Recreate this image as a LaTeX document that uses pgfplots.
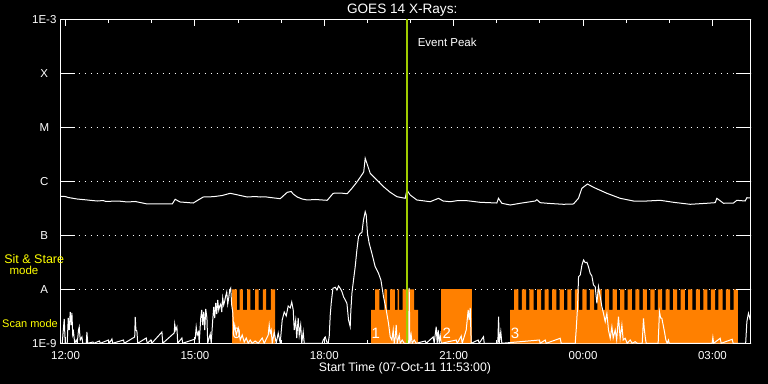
\documentclass[border=0pt]{standalone}
\usepackage{pgfplots}
\pgfplotsset{compat=1.18}
\usepackage{fontspec}
\setmainfont{Liberation Sans}
\definecolor{modeorange}{RGB}{255,128,0}
\definecolor{peakgreen}{RGB}{160,205,0}
\definecolor{labelyellow}{RGB}{255,255,0}
\newcommand{\lbl}{\fontsize{11.5bp}{13bp}\selectfont}
\newcommand{\numlbl}{\fontsize{15bp}{17bp}\selectfont}
\begin{document}
\begin{tikzpicture}
\fill[black] (0,0) rectangle (768bp,384bp);
\begin{axis}[
  at={(60.5bp,40.7bp)}, anchor=south west,
  width=690bp, height=324bp, scale only axis,
  xmin=-0.1167, xmax=15.8833, ymin=-9, ymax=-3,
  axis line style={white, line width=1bp},
  xtick={0,3,6,9,12,15},
  xticklabels={12:00,15:00,18:00,21:00,00:00,03:00},
  minor xtick={1,2,4,5,7,8,10,11,13,14},
  ytick={-9,-8,-7,-6,-5,-4,-3},
  yticklabels={1E-9,A,B,C,M,X,1E-3},
  tick align=inside,
  major tick length=6.7bp, minor tick length=3.3bp,
  xtick style={white, line width=1bp},
  minor tick style={white, line width=1bp},
  ytick style={draw=none},
  ymajorgrids,
  major grid style={white, line width=1bp, dash pattern=on 1bp off 5bp},
  xticklabel style={white, font=\lbl, anchor=center, yshift=-12.7bp},
  yticklabel style={white, font=\lbl, anchor=center, xshift=-16.2bp},
]
% mode regions (scan mode base, sit & stare spikes)
\addplot[fill=modeorange, draw=none] coordinates {
(3.865,-9) (3.865,-8) (3.974,-8) (3.974,-8.383) (4.034,-8.383) (4.034,-8) (4.113,-8) (4.113,-8.383) (4.213,-8.383) (4.213,-8) (4.289,-8) (4.289,-8.383) (4.398,-8.383) (4.398,-8) (4.475,-8) (4.475,-8.383) (4.577,-8.383) (4.577,-8) (4.653,-8) (4.653,-8.383) (4.762,-8.383) (4.762,-8) (4.862,-8) (4.862,-9)} -- cycle;
\addplot[fill=modeorange, draw=none] coordinates {
(7.088,-9) (7.088,-8.383) (7.180,-8.383) (7.180,-8) (7.280,-8) (7.280,-8.383) (7.396,-8.383) (7.396,-8) (7.459,-8) (7.459,-8.383) (7.529,-8.383) (7.529,-8) (7.637,-8) (7.637,-8.383) (7.698,-8.383) (7.698,-8) (7.737,-8) (7.737,-8.383) (7.814,-8.383) (7.814,-8) (8.085,-8) (8.085,-8.383) (8.178,-8.383) (8.178,-9)} -- cycle;
\addplot[fill=modeorange, draw=none] coordinates {
(8.711,-9) (8.711,-8) (9.423,-8) (9.423,-9)} -- cycle;
\addplot[fill=modeorange, draw=none] coordinates {
(10.311,-9) (10.311,-8.383) (10.403,-8.383) (10.403,-8)
(10.503,-8) (10.503,-8.383) (10.582,-8.383) (10.582,-8)
(10.678,-8) (10.678,-8.383) (10.757,-8.383) (10.757,-8)
(10.854,-8) (10.854,-8.383) (10.933,-8.383) (10.933,-8)
(11.029,-8) (11.029,-8.383) (11.108,-8.383) (11.108,-8)
(11.204,-8) (11.204,-8.383) (11.283,-8.383) (11.283,-8)
(11.379,-8) (11.379,-8.383) (11.458,-8.383) (11.458,-8)
(11.555,-8) (11.555,-8.383) (11.634,-8.383) (11.634,-8)
(11.730,-8) (11.730,-8.383) (11.809,-8.383) (11.809,-8)
(11.905,-8) (11.905,-8.383) (11.984,-8.383) (11.984,-8)
(12.081,-8) (12.081,-8.383) (12.160,-8.383) (12.160,-8)
(12.256,-8) (12.256,-8.383) (12.335,-8.383) (12.335,-8)
(12.431,-8) (12.431,-8.383) (12.510,-8.383) (12.510,-8)
(12.606,-8) (12.606,-8.383) (12.685,-8.383) (12.685,-8)
(12.782,-8) (12.782,-8.383) (12.861,-8.383) (12.861,-8)
(12.957,-8) (12.957,-8.383) (13.036,-8.383) (13.036,-8)
(13.132,-8) (13.132,-8.383) (13.211,-8.383) (13.211,-8)
(13.308,-8) (13.308,-8.383) (13.387,-8.383) (13.387,-8)
(13.483,-8) (13.483,-8.383) (13.562,-8.383) (13.562,-8)
(13.658,-8) (13.658,-8.383) (13.737,-8.383) (13.737,-8)
(13.834,-8) (13.834,-8.383) (13.913,-8.383) (13.913,-8)
(14.009,-8) (14.009,-8.383) (14.088,-8.383) (14.088,-8)
(14.184,-8) (14.184,-8.383) (14.263,-8.383) (14.263,-8)
(14.360,-8) (14.360,-8.383) (14.439,-8.383) (14.439,-8)
(14.535,-8) (14.535,-8.383) (14.614,-8.383) (14.614,-8)
(14.710,-8) (14.710,-8.383) (14.789,-8.383) (14.789,-8)
(14.885,-8) (14.885,-8.383) (14.964,-8.383) (14.964,-8)
(15.061,-8) (15.061,-8.383) (15.140,-8.383) (15.140,-8)
(15.236,-8) (15.236,-8.383) (15.315,-8.383) (15.315,-8)
(15.411,-8) (15.411,-8.383) (15.490,-8.383) (15.490,-8)
(15.590,-8) (15.590,-9)} -- cycle;
% GOES 1-8 A (log10 flux)
\addplot[white, line width=1bp] coordinates {
(-0.117,-6.278) (-0.007,-6.282) (0.063,-6.300) (0.271,-6.328) (0.503,-6.346) (0.619,-6.356) (0.735,-6.365) (0.874,-6.356) (0.921,-6.370) (1.036,-6.370) (1.222,-6.365) (1.431,-6.383) (1.616,-6.374) (1.732,-6.393) (1.894,-6.420) (2.474,-6.420) (2.543,-6.333) (2.613,-6.365) (2.659,-6.383) (2.961,-6.402) (3.077,-6.346) (3.193,-6.291) (3.425,-6.285) (3.633,-6.263) (3.819,-6.222) (4.004,-6.254) (4.213,-6.291) (4.398,-6.282) (4.514,-6.291) (4.630,-6.287) (4.746,-6.300) (4.978,-6.322) (5.140,-6.204) (5.233,-6.189) (5.279,-6.235) (5.372,-6.291) (5.488,-6.328) (5.604,-6.346) (5.790,-6.337) (6.068,-6.352) (6.207,-6.222) (6.369,-6.217) (6.531,-6.230) (6.647,-6.124) (6.763,-6.007) (6.895,-5.852) (6.914,-5.828) (6.949,-5.574) (6.988,-5.667) (7.065,-5.852) (7.220,-5.976) (7.373,-6.100) (7.529,-6.204) (7.684,-6.285) (7.876,-6.315) (7.916,-6.161) (7.992,-6.254) (8.147,-6.346) (8.456,-6.378) (8.648,-6.315) (8.757,-6.365) (8.920,-6.378) (9.105,-6.356) (9.307,-6.359) (9.615,-6.389) (10.002,-6.402) (10.039,-6.315) (10.118,-6.407) (10.195,-6.420) (10.311,-6.439) (10.543,-6.407) (10.891,-6.365) (10.930,-6.341) (11.006,-6.396) (11.238,-6.411) (11.546,-6.426) (11.778,-6.420) (11.894,-6.315) (11.973,-6.130) (12.103,-6.050) (12.242,-6.111) (12.553,-6.222) (12.861,-6.315) (13.170,-6.365) (13.480,-6.365) (13.789,-6.352) (14.097,-6.389) (14.484,-6.426) (14.871,-6.407) (15.064,-6.396) (15.103,-6.315) (15.256,-6.407) (15.488,-6.402) (15.567,-6.352) (15.759,-6.365) (15.799,-6.304) (15.876,-6.309)};
% GOES 0.5-4 A (log10 flux)
\addplot[white, line width=1bp] coordinates {
(-0.111,-9) (-0.077,-9) (-0.042,-8.661) (-0.030,-8.550) (-0.007,-9) (0.039,-9) (0.063,-8.531) (0.086,-8.754) (0.109,-8.420) (0.132,-8.661) (0.148,-8.439) (0.167,-8.846) (0.185,-8.791) (0.213,-9) (0.248,-8.939) (0.271,-9) (0.301,-8.754) (0.318,-8.698) (0.341,-8.939) (0.380,-8.883) (0.399,-9) (0.480,-9) (0.496,-8.791) (0.515,-9) (0.635,-8.976) (0.654,-9) (0.788,-8.957) (0.805,-9) (0.997,-8.939) (1.013,-9) (1.076,-8.920) (1.094,-9) (1.345,-8.939) (1.361,-9) (1.604,-8.883) (1.616,-8.513) (1.632,-8.754) (1.655,-8.772) (1.674,-9) (1.871,-8.902) (1.894,-9) (1.980,-8.939) (1.999,-9) (2.235,-8.791) (2.254,-9) (2.520,-8.809) (2.532,-8.643) (2.555,-8.754) (2.583,-8.698) (2.601,-9) (2.699,-8.902) (2.717,-9) (3.007,-8.920) (3.030,-8.698) (3.054,-8.846) (3.084,-8.791) (3.100,-9) (3.135,-8.531) (3.158,-8.383) (3.181,-8.661) (3.204,-8.420) (3.228,-8.754) (3.251,-8.365) (3.279,-8.531) (3.297,-9) (3.355,-8.828) (3.378,-9) (3.413,-8.569) (3.436,-8.328) (3.459,-8.531) (3.483,-8.254) (3.506,-8.457) (3.529,-8.198) (3.552,-8.383) (3.575,-8.309) (3.598,-8.272) (3.622,-8.420) (3.645,-8.161) (3.668,-8.291) (3.691,-8.217) (3.714,-8.124) (3.738,-8.050) (3.761,-8.272) (3.784,-8.161) (3.807,-8.013) (3.830,-7.976) (3.853,-8.291) (3.877,-8.420) (3.900,-8.754) (3.923,-8.661) (3.958,-8.846) (4.004,-8.717) (4.051,-8.939) (4.097,-8.846) (4.143,-8.976) (4.190,-8.902) (4.236,-9) (4.282,-8.939) (4.329,-9) (4.398,-8.957) (4.468,-9) (4.561,-8.902) (4.607,-9) (4.700,-8.846) (4.723,-8.661) (4.746,-8.809) (4.769,-8.754) (4.793,-9) (4.839,-8.791) (4.885,-9) (4.932,-8.809) (4.978,-9) (5.024,-8.569) (5.071,-8.420) (5.117,-8.494) (5.163,-8.309) (5.210,-8.346) (5.245,-8.235) (5.280,-8.383) (5.303,-8.754) (5.337,-8.569) (5.361,-8.902) (5.395,-8.531) (5.419,-8.846) (5.453,-8.661) (5.477,-9) (5.511,-8.791) (5.535,-9) (5.952,-9) (5.975,-8.939) (6.022,-8.883) (6.068,-9) (6.091,-9) (6.115,-8.865) (6.138,-8.476) (6.161,-8.254) (6.200,-7.981) (6.253,-7.963) (6.293,-8.013) (6.330,-7.939) (6.369,-7.981) (6.409,-8.044) (6.446,-8.137) (6.485,-8.198) (6.525,-8.259) (6.562,-8.569) (6.601,-8.693) (6.617,-8.383) (6.641,-8.074) (6.678,-7.828) (6.717,-7.581) (6.756,-7.272) (6.794,-7.026) (6.833,-6.963) (6.872,-6.952) (6.909,-6.717) (6.949,-6.563) (6.972,-6.624) (7.002,-6.963) (7.041,-7.148) (7.103,-7.333) (7.180,-7.581) (7.257,-7.704) (7.313,-7.828) (7.373,-8.137) (7.436,-8.383) (7.489,-8.630) (7.529,-8.878) (7.568,-8.939) (7.598,-8.754) (7.621,-9) (7.645,-8.902) (7.668,-8.661) (7.691,-9) (7.738,-8.846) (7.761,-9) (7.807,-8.939) (7.854,-9) (7.958,-9) (7.969,-7.976) (7.985,-9) (8.015,-8.846) (8.038,-9) (8.085,-8.939) (8.131,-9) (8.340,-8.957) (8.363,-9) (8.525,-8.883) (8.548,-9) (8.595,-8.693) (8.618,-9) (8.641,-8.754) (8.664,-9) (8.688,-8.846) (8.711,-9) (9.059,-8.939) (9.082,-9) (9.175,-8.865) (9.198,-9) (9.291,-8.754) (9.337,-8.383) (9.360,-8.569) (9.384,-8.346) (9.407,-9) (9.569,-8.939) (9.592,-9) (9.692,-8.878) (9.708,-9) (10.024,-9) (10.042,-8.507) (10.058,-9) (10.093,-8.785) (10.117,-9) (10.990,-8.939) (11.006,-9) (11.122,-8.939) (11.146,-9) (11.470,-8.907) (11.494,-9) (11.819,-9) (11.842,-8.741) (11.873,-8.322) (11.896,-7.767) (11.935,-7.735) (11.975,-7.550) (12.012,-7.457) (12.051,-7.507) (12.090,-7.500) (12.126,-7.581) (12.166,-7.704) (12.205,-7.754) (12.242,-7.920) (12.282,-7.952) (12.321,-8.259) (12.358,-7.952) (12.398,-8.137) (12.437,-8.322) (12.474,-8.444) (12.514,-8.600) (12.553,-8.444) (12.590,-8.754) (12.630,-8.907) (12.669,-8.693) (12.699,-8.902) (12.746,-8.754) (12.780,-8.939) (12.822,-8.507) (12.861,-8.907) (12.901,-8.661) (12.931,-8.939) (12.977,-8.907) (13.024,-9) (13.093,-8.939) (13.140,-9) (13.210,-8.970) (13.256,-9) (13.372,-9) (13.402,-8.537) (13.418,-8.717) (13.441,-8.878) (13.464,-9) (13.742,-9) (13.772,-8.415) (13.800,-8.531) (13.828,-8.537) (13.858,-8.661) (13.881,-8.754) (13.921,-8.939) (13.951,-9) (13.981,-8.939) (13.997,-9) (14.994,-9) (15.011,-8.889) (15.029,-9) (15.180,-8.907) (15.203,-9) (15.458,-8.926) (15.481,-9) (15.771,-9) (15.799,-8.600) (15.836,-8.444) (15.859,-8.507) (15.875,-8.569)};
% event peak
\addplot[peakgreen, line width=2bp] coordinates {(7.916,-9) (7.916,-3)};
% long y ticks on both sides
\draw[white, line width=1bp] (rel axis cs:0,0.16667) -- ([xshift=14.7bp]rel axis cs:0,0.16667);
\draw[white, line width=1bp] (rel axis cs:0,0.33333) -- ([xshift=14.7bp]rel axis cs:0,0.33333);
\draw[white, line width=1bp] (rel axis cs:0,0.5) -- ([xshift=14.7bp]rel axis cs:0,0.5);
\draw[white, line width=1bp] (rel axis cs:0,0.66667) -- ([xshift=14.7bp]rel axis cs:0,0.66667);
\draw[white, line width=1bp] (rel axis cs:0,0.83333) -- ([xshift=14.7bp]rel axis cs:0,0.83333);
\draw[white, line width=1bp] (rel axis cs:1,0.16667) -- ([xshift=-14.7bp]rel axis cs:1,0.16667);
\draw[white, line width=1bp] (rel axis cs:1,0.33333) -- ([xshift=-14.7bp]rel axis cs:1,0.33333);
\draw[white, line width=1bp] (rel axis cs:1,0.5) -- ([xshift=-14.7bp]rel axis cs:1,0.5);
\draw[white, line width=1bp] (rel axis cs:1,0.66667) -- ([xshift=-14.7bp]rel axis cs:1,0.66667);
\draw[white, line width=1bp] (rel axis cs:1,0.83333) -- ([xshift=-14.7bp]rel axis cs:1,0.83333);
\end{axis}
% texts
\node[white, font=\fontsize{13.6bp}{15bp}\selectfont] at (402.2bp,374.3bp) {GOES 14 X-Rays:};
\node[white, font=\lbl] at (447.2bp,341.2bp) {Event Peak};
\node[white, font=\fontsize{12.3bp}{14bp}\selectfont] at (405bp,15.9bp) {Start Time (07-Oct-11 11:53:00)};
\node[labelyellow, font=\fontsize{12.5bp}{14bp}\selectfont, anchor=base, inner sep=0pt] at (34.2bp,120.9bp) {Sit \& Stare};
\node[labelyellow, font=\lbl, anchor=base, inner sep=0pt] at (24bp,109bp) {mode};
\node[labelyellow, font=\fontsize{11bp}{13bp}\selectfont, anchor=base west, inner sep=0pt] at (2bp,56.9bp) {Scan mode};
\node[white, font=\numlbl, anchor=base, inner sep=0pt] at (236.5bp,45.3bp) {0};
\node[white, font=\numlbl, anchor=base, inner sep=0pt] at (375.7bp,45.5bp) {1};
\node[white, font=\numlbl, anchor=base, inner sep=0pt] at (446.7bp,45.5bp) {2};
\node[white, font=\numlbl, anchor=base, inner sep=0pt] at (515bp,45.5bp) {3};
\end{tikzpicture}
\end{document}
